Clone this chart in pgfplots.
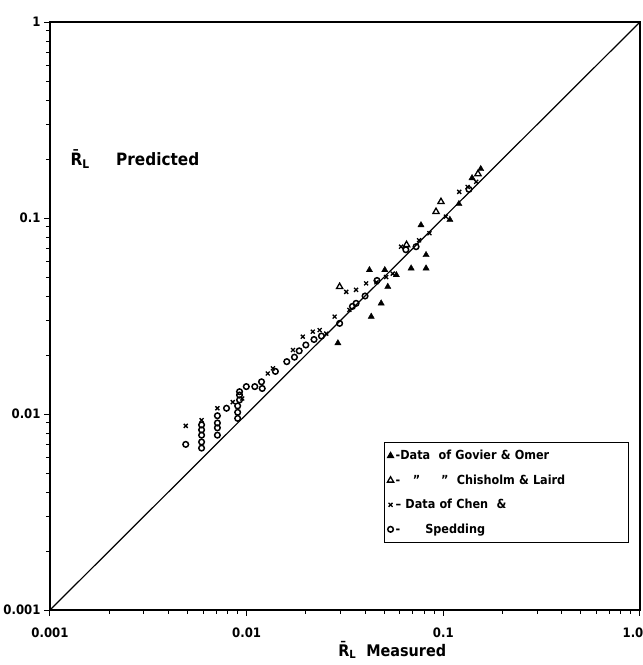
\documentclass[border=0pt]{standalone}
\usepackage{fontspec}
\setmainfont{DejaVu Sans Condensed}
\usepackage{pgfplots}
\pgfplotsset{compat=1.18}
\begin{document}
\begin{tikzpicture}
\path[use as bounding box] (-50pt,-55pt) rectangle (593pt,610pt);
\begin{axis}[
  at={(0,0)}, anchor=south west,
  xmode=log, ymode=log,
  xmin=0.001, xmax=1, ymin=0.001, ymax=1,
  width=590pt, height=588pt, scale only axis,
  xtick={0.001,0.01,0.1,1}, xticklabels={0.001,0.01,0.1,{\hspace{-14pt}1.0}},
  ytick={0.001,0.01,0.1,1}, yticklabels={0.001,0.01,0.1,1},
  tick label style={font=\bfseries\fontsize{13}{15}\selectfont},
  xticklabel style={yshift=-8pt},
  xtick pos=bottom, ytick pos=left, tick align=outside,
  major tick length=6pt, minor tick length=4pt,
  axis line style={line width=1.3pt},
  every tick/.style={black, line width=1pt},
  xlabel={\=R\textsubscript{L}\ \ Measured},
  xlabel style={at={(ticklabel cs:0.58)}, anchor=north, yshift=3pt,
    font=\bfseries\fontsize{16}{18}\selectfont},
  legend style={at={(rel axis cs:0.566,0.286)}, anchor=north west,
    draw=black, line width=1pt, font=\bfseries\fontsize{12.5}{14}\selectfont,
    row sep=9.5pt, inner ysep=6pt, inner xsep=3pt, legend cell align=left,
    /tikz/every even column/.append style={text width=228pt}},
]
\addplot[black, line width=1.2pt, forget plot] coordinates {(0.001,0.001) (1,1)};
% Govier & Omer
\addplot[only marks, mark=triangle*, mark size=3.6pt, black] coordinates {
(0.0291,0.023) (0.0421,0.0543) (0.043,0.0314) (0.0483,0.0367) (0.0522,0.0446)
(0.0577,0.0512) (0.0686,0.0554) (0.0817,0.0554) (0.0817,0.0648) (0.077,0.092)
(0.108,0.098) (0.12,0.118) (0.14,0.16) (0.155,0.178) (0.0504,0.0543)
};
% Chisholm & Laird
\addplot[only marks, mark=triangle, mark size=3.6pt, black, line width=1.3pt] coordinates {
(0.0297,0.0446) (0.0918,0.1077) (0.0973,0.121) (0.15,0.168) (0.065,0.073)
};
% Chen & Spedding (x)
\addplot[only marks, mark=x, mark size=2.8pt, black, line width=1.3pt] coordinates {
(0.0049,0.0087) (0.0059,0.0093) (0.0071,0.0107) (0.0085,0.0115) (0.0095,0.012)
(0.0128,0.0161) (0.0172,0.0212) (0.0193,0.0248) (0.0217,0.0263) (0.0254,0.0257)
(0.028,0.0314) (0.0321,0.042) (0.036,0.043) (0.0405,0.0464) (0.0457,0.047)
(0.061,0.0714) (0.0753,0.077) (0.103,0.1016) (0.1205,0.136) (0.133,0.144)
(0.147,0.153) (0.0512,0.05) (0.0553,0.052) (0.085,0.0836) (0.0136,0.0171)
(0.0235,0.0268) (0.0333,0.034)
};
% Spedding (o)
\addplot[only marks, mark=o, mark size=2.8pt, black, line width=1.5pt] coordinates {
(0.0049,0.007) (0.0059,0.0067) (0.0059,0.0072) (0.0059,0.0078) (0.0059,0.0083)
(0.0059,0.0088) (0.0071,0.0078) (0.0071,0.0085) (0.0071,0.009) (0.0071,0.0098)
(0.0079,0.0107) (0.009,0.0095) (0.009,0.0102) (0.009,0.011) (0.0092,0.0118)
(0.0092,0.0125) (0.0092,0.013) (0.00996,0.0138) (0.011,0.0138) (0.0119,0.0146)
(0.012,0.0135) (0.014,0.0165) (0.016,0.0185) (0.0175,0.0195) (0.0185,0.021)
(0.02,0.0225) (0.022,0.024) (0.024,0.025) (0.0297,0.029) (0.0345,0.0354)
(0.036,0.0367) (0.04,0.04) (0.0645,0.0689) (0.0727,0.0714) (0.135,0.14)
(0.046,0.048)
};
\legend{{-Data\ \ of Govier \& Omer},{-\ \ \ "\ \ \ \ \ "\ \ Chisholm \& Laird},{-- Data of Chen\ \ \&},{-\ \ \ \ \ \ Spedding}}
\node[anchor=west, font=\bfseries\fontsize{17}{19}\selectfont] at (axis cs:0.00122,0.2) {\=R\textsubscript{L}\ \ \ \ \ Predicted};
\end{axis}
\end{tikzpicture}
\end{document}
